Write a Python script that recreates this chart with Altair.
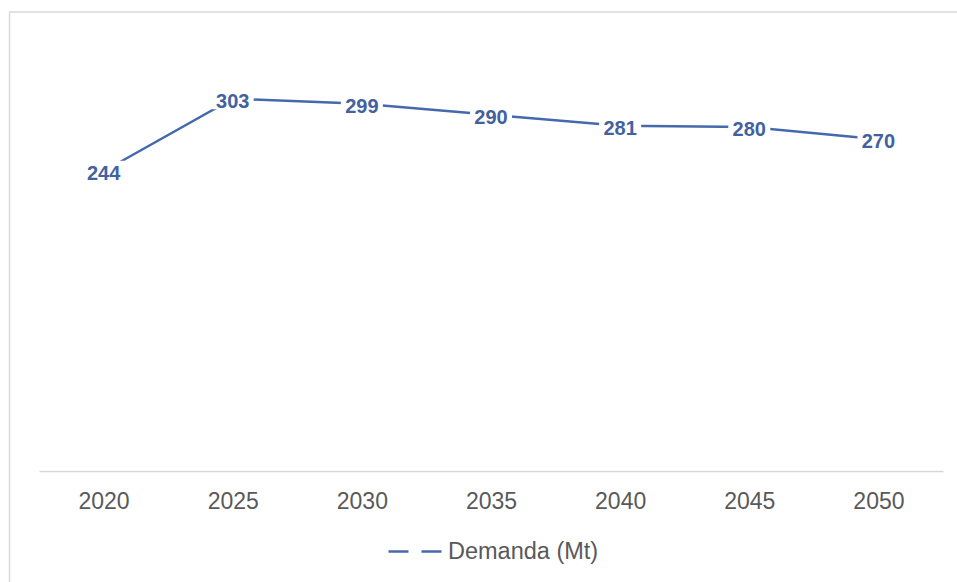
import altair as alt
import pandas as pd

years = ["2020", "2025", "2030", "2035", "2040", "2045", "2050"]
demand = [244, 303, 299, 290, 281, 280, 270]
series_name = "Demanda (Mt)"

df = pd.DataFrame({"year": years, "demand": demand, "series": [series_name] * len(years)})

LINE_COLOR = "#4569ad"
TEXT_COLOR = "#43619f"
GRAY_TEXT = "#595959"
BORDER = "#d9d9d9"

x_enc = alt.X(
    "year:O",
    scale=alt.Scale(type="point", padding=0.5),
    axis=alt.Axis(
        title=None,
        labelAngle=0,
        ticks=False,
        grid=False,
        domainColor=BORDER,
        domainWidth=1.5,
        labelFontSize=23,
        labelColor=GRAY_TEXT,
        labelFont="Liberation Sans",
        labelPadding=19,
    ),
)
y_enc = alt.Y("demand:Q", scale=alt.Scale(domain=[0, 350]), axis=None)

base = alt.Chart(df).encode(x=x_enc, y=y_enc)

line = base.mark_line(strokeWidth=2.5).encode(
    color=alt.Color(
        "series:N",
        scale=alt.Scale(range=[LINE_COLOR]),
        legend=alt.Legend(
            title=None,
            orient="none",
            legendX=348,
            legendY=481,
            direction="horizontal",
            symbolType="stroke",
            symbolSize=3136,
            symbolStrokeWidth=2.5,
            symbolDash=[20, 13],
            labelFontSize=23.5,
            labelColor=GRAY_TEXT,
            labelFont="Liberation Sans",
            labelOffset=2,
            padding=0,
        ),
    )
)

bg = base.mark_point(
    shape="M-1,-0.5L1,-0.5L1,0.5L-1,0.5Z",
    filled=True,
    color="white",
    opacity=1,
    size=1764,
    strokeWidth=0,
)

labels = base.mark_text(
    fontSize=20, fontWeight="bold", color=TEXT_COLOR, font="Liberation Sans", dy=3
).encode(text="demand:Q")

one = alt.Chart(pd.DataFrame({"a": [0]}))
left_border = one.mark_rule(color=BORDER, strokeWidth=1.5).encode(
    x=alt.value(-29.5), y=alt.value(-29), y2=alt.value(541)
)
top_border = one.mark_rule(color=BORDER, strokeWidth=1.5).encode(
    x=alt.value(-30), x2=alt.value(918), y=alt.value(-29)
)

chart = (
    alt.layer(left_border, top_border, line, bg, labels)
    .properties(
        width=904,
        height=430,
        autosize="none",
        padding={"left": 39, "top": 41, "right": 14, "bottom": 111},
        background="white",
    )
    .configure_view(stroke=None)
)

chart.save("out.html", embed_options={"renderer": "svg", "actions": False})
